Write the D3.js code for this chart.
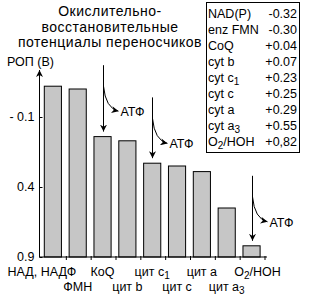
<!DOCTYPE html>
<html>
<head>
<meta charset="utf-8">
<script src="https://cdn.jsdelivr.net/npm/d3@7"></script>
<style>
  body { margin: 0; background: #fff; }
  svg { display: block; font-family: "Liberation Sans", Arial, sans-serif; }
</style>
</head>
<body>
<div id="wrapper"></div>
<script>
// 1. Data
const carriers = ["НАД, НАДФ", "ФМН", "КоQ", "цит b", "цит c_1", "цит c", "цит a", "цит a_3", "O_2/НОН"]
const potentials = [-0.32, -0.30, 0.04, 0.07, 0.23, 0.25, 0.29, 0.55, 0.82]
const legendNames = ["NAD(P)", "enz FMN", "CoQ", "cyt b", "cyt c_1", "cyt c", "cyt a", "cyt a_3", "O_2/HOH"]
const legendValues = ["-0.32", "-0.30", "+0.04", "+0.07", "+0.23", "+0.25", "+0.29", "+0.55", "+0,82"]
const yTicks = [-0.1, 0.4, 0.9]
const yTickLabels = ["- 0.1", "0.4", "0.9"]
const titleLines = ["Окислительно-", "восстановительные", "потенциалы переносчиков"]
// ATP sites: index of the carrier the arrow points at, and potential where the arrow starts
const atpSites = [2, 4, 8]
const atpStart = [-0.47, -0.24, 0.32]

// 2. Dimensions
const dimensions = { width: 311, height: 295 }

// 3. Canvas
const wrapper = d3.select("#wrapper")
  .append("svg")
    .attr("width", dimensions.width)
    .attr("height", dimensions.height)

const defs = wrapper.append("defs")
defs.append("marker")
    .attr("id", "head")
    .attr("viewBox", "0 0 10 10")
    .attr("refX", 10).attr("refY", 5)
    .attr("markerWidth", 7).attr("markerHeight", 7)
    .attr("markerUnits", "userSpaceOnUse")
    .attr("orient", "auto")
  .append("path")
    .attr("d", "M0,0 L10,5 L0,10 L3,5 Z")
    .attr("fill", "#000")

// write "a_3" style labels with a subscript
function richText(sel, str, size) {
  const parts = str.split("_")
  sel.append("tspan").text(parts[0])
  parts.slice(1).forEach(p => {
    sel.append("tspan").attr("dy", 3).style("font-size", (size * 0.8) + "px").text(p[0])
    if (p.length > 1) sel.append("tspan").attr("dy", -3).text(p.slice(1))
  })
}

// 4. Scales
const xScale = d3.scaleBand()
  .domain(carriers)
  .range([41.5, 265])

const yScale = d3.scaleLinear()
  .domain([-0.1, 0.9])
  .range([117, 257])

const baseY = yScale(0.9)

// 5. Bars
wrapper.append("g").selectAll("rect")
  .data(carriers)
  .join("rect")
    .attr("x", d => xScale(d) + 2.8)
    .attr("y", (d, i) => yScale(potentials[i]))
    .attr("width", xScale.bandwidth() * 0.69)
    .attr("height", (d, i) => baseY - yScale(potentials[i]))
    .attr("fill", "#c6c6c6")
    .attr("stroke", "#000")
    .attr("stroke-width", 1)

// 6. Axes
const yAxis = wrapper.append("g")
  .attr("transform", "translate(39.5,0)")
  .call(d3.axisLeft(yScale)
    .tickValues(yTicks)
    .tickSize(-3)
    .tickPadding(5)
    .tickFormat((d, i) => yTickLabels[i]))
  .style("font-family", "Liberation Sans, Arial, sans-serif")
  .style("font-size", "12.5px")
yAxis.select(".domain").remove()
yAxis.selectAll("text").attr("fill", "#000").attr("dy", "0.3em")

wrapper.append("line")
  .attr("x1", 39.5).attr("x2", 39.5)
  .attr("y1", baseY).attr("y2", 70)
  .attr("stroke", "#000")
  .attr("marker-end", "url(#head)")

wrapper.append("text")
  .attr("x", 7).attr("y", 66)
  .style("font-size", "12.5px")
  .text("РОП (В)")

wrapper.append("line")
  .attr("x1", 39).attr("x2", 267)
  .attr("y1", baseY).attr("y2", baseY)
  .attr("stroke", "#000")

wrapper.append("g").selectAll("line")
  .data(carriers)
  .join("line")
    .attr("x1", d => xScale(d) + xScale.step())
    .attr("x2", d => xScale(d) + xScale.step())
    .attr("y1", baseY - 1).attr("y2", baseY + 3)
    .attr("stroke", "#000")

wrapper.append("g").selectAll("text")
  .data(carriers)
  .join("text")
    .attr("x", (d, i) => xScale(d) + 2.8 + xScale.bandwidth() * 0.345 + (i === 0 ? -11 : i === 8 ? 6 : 0))
    .attr("y", (d, i) => i % 2 === 0 ? 276 : 291)
    .attr("text-anchor", "middle")
    .style("font-size", "12.5px")
    .each(function(d) { richText(d3.select(this), d, 12.5) })

// 7. Title
wrapper.append("g").selectAll("text")
  .data(titleLines)
  .join("text")
    .attr("x", 110)
    .attr("y", (d, i) => [16, 32, 47][i])
    .attr("text-anchor", "middle")
    .style("font-size", "14px")
    .style("letter-spacing", "0.5px")
    .text(d => d)

// 8. Legend
const legend = wrapper.append("g")
legend.append("rect")
  .attr("x", 206.5).attr("y", 2.5)
  .attr("width", 93).attr("height", 150)
  .attr("fill", "none")
  .attr("stroke", "#000")
legend.selectAll("text.name")
  .data(legendNames)
  .join("text")
    .attr("class", "name")
    .attr("x", 208)
    .attr("y", (d, i) => 17.5 + i * 16)
    .style("font-size", "12.5px")
    .each(function(d) { richText(d3.select(this), d, 12.5) })
legend.selectAll("text.val")
  .data(legendValues)
  .join("text")
    .attr("class", "val")
    .attr("x", 297)
    .attr("y", (d, i) => 17.5 + i * 16)
    .attr("text-anchor", "end")
    .style("font-size", "12.5px")
    .text(d => d)

// 9. ATP arrows
const atp = wrapper.append("g")
atpSites.forEach((idx, k) => {
  const cx = Math.round(xScale(carriers[idx]) + 2.8 + xScale.bandwidth() * 0.345) + 0.5
  const top = yScale(atpStart[k])
  const tip = yScale(potentials[idx]) - 5
  atp.append("line")
    .attr("x1", cx).attr("x2", cx)
    .attr("y1", top).attr("y2", tip)
    .attr("stroke", "#000")
    .attr("marker-end", "url(#head)")
  const by = top + 21
  const ey = by + 25
  atp.append("path")
    .attr("d", `M${cx},${by} Q${cx + 2},${ey - 3} ${cx + 15},${ey}`)
    .attr("fill", "none")
    .attr("stroke", "#000")
    .attr("marker-end", "url(#head)")
  atp.append("text")
    .attr("x", cx + 17).attr("y", ey + 5)
    .style("font-size", "12.5px")
    .text("АТФ")
})
</script>
</body>
</html>
